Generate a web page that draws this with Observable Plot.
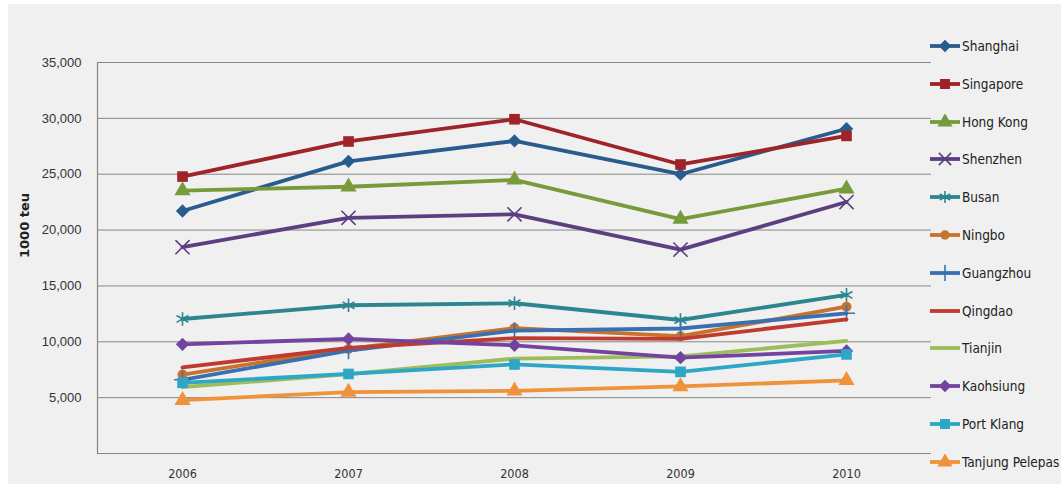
<!DOCTYPE html>
<html>
<head>
<meta charset="utf-8">
<script src="https://cdn.jsdelivr.net/npm/d3@7"></script>
<script src="https://cdn.jsdelivr.net/npm/@observablehq/plot@0.6"></script>
<style>
  html, body { margin: 0; padding: 0; background: #ffffff; }
  #wrap { position: relative; width: 1061px; height: 484px; overflow: hidden; }
  #bg { position: absolute; left: 8px; top: 4px; right: 0; bottom: 0; background: #f0f0f0; }
  #chart { position: absolute; left: 0; top: 0; }
  #legend { position: absolute; left: 0; top: 0; width: 1061px; height: 484px; pointer-events: none; }
  .item { position: absolute; left: 929px; height: 16px; display: flex; align-items: center;
          font-family: "Liberation Sans Narrow", "DejaVu Sans Condensed", Arial, sans-serif; font-size: 13.5px; color: #222; white-space: nowrap; }
  .item svg { display: block; margin-right: 1px; }
</style>
</head>
<body>
<div id="wrap">
  <div id="bg"></div>
  <div id="chart"></div>
  <div id="legend"></div>
</div>
<script>
const years = ["2006", "2007", "2008", "2009", "2010"];
const ports = ["Shanghai", "Singapore", "Hong Kong", "Shenzhen", "Busan", "Ningbo",
  "Guangzhou", "Qingdao", "Tianjin", "Kaohsiung", "Port Klang", "Tanjung Pelepas"];
const colors = ["#2a5b8e", "#9e2428", "#779b3a", "#5c3f80", "#2d8590", "#c8732c",
  "#3a70b2", "#c03a2e", "#9dbd5a", "#7244a0", "#2ea6c6", "#f0923a"];
const symbols = ["diamond2", "square", "triangle", "times", "asterisk", "circle",
  "plus", null, null, "diamond2", "square", "triangle"];
const shanghai = [21710, 26150, 27980, 25000, 29070];
const singapore = [24790, 27930, 29920, 25870, 28430];
const hongKong = [23540, 23880, 24490, 20980, 23700];
const shenzhen = [18470, 21100, 21410, 18250, 22510];
const busan = [12040, 13270, 13450, 11950, 14190];
const ningbo = [7070, 9360, 11230, 10500, 13140];
const guangzhou = [6600, 9200, 11000, 11190, 12550];
const qingdao = [7700, 9460, 10320, 10260, 12010];
const tianjin = [5950, 7100, 8500, 8700, 10080];
const kaohsiung = [9770, 10260, 9680, 8580, 9180];
const portKlang = [6330, 7120, 7970, 7310, 8870];
const tanjungPelepas = [4770, 5500, 5600, 6000, 6540];
const seriesValues = [shanghai, singapore, hongKong, shenzhen, busan, ningbo,
  guangzhou, qingdao, tianjin, kaohsiung, portKlang, tanjungPelepas];
const yTicks = [5000, 10000, 15000, 20000, 25000, 30000, 35000];
const yLabel = "1000 teu";

const data = [];
ports.forEach((p, i) => years.forEach((y, j) => data.push({port: p, year: y, value: seriesValues[i][j]})));

const strokeOnly = new Set(["times", "asterisk", "plus"]);
const seriesMarks = [];
ports.forEach((p, i) => {
  const d = data.filter(r => r.port === p);
  seriesMarks.push(Plot.line(d, {x: "year", y: "value", stroke: colors[i], strokeWidth: 3.8, strokeLinejoin: "round"}));
  const s = symbols[i];
  if (s) {
    if (strokeOnly.has(s)) {
      seriesMarks.push(Plot.dot(d, {x: "year", y: "value", symbol: () => s, r: s === "plus" ? 5.5 : 6.5, stroke: colors[i], strokeWidth: 1.6, fill: "none"}));
    } else {
      seriesMarks.push(Plot.dot(d, {x: "year", y: "value", symbol: () => s, r: s === "circle" ? 5 : 6, fill: colors[i], stroke: "none"}));
    }
  }
});

const chart = Plot.plot({
  width: 1061,
  height: 484,
  marginLeft: 97,
  marginRight: 130,
  marginTop: 62,
  marginBottom: 31,
  style: {background: "transparent", fontFamily: "Liberation Sans, Arial, sans-serif", color: "#222"},
  symbol: {type: "identity"},
  x: {type: "point", domain: years, padding: 0.5, label: null},
  y: {domain: [0, 35000], label: null},
  marks: [
    Plot.ruleY(yTicks, {stroke: "#878787", strokeWidth: 1}),
    Plot.ruleY([0], {stroke: "#878787", strokeWidth: 1.2}),
    Plot.frame({anchor: "left", stroke: "#878787", strokeWidth: 1.2}),
    Plot.axisY({ticks: yTicks, tickSize: 0, tickPadding: 16, tickFormat: d3.format(","), label: null, fontSize: 13, fill: "#333"}),
    Plot.axisX({tickSize: 0, tickPadding: 16, label: null, fontSize: 12.5, fontFamily: "Liberation Sans Narrow, DejaVu Sans Condensed, Arial, sans-serif", fill: "#333"}),
    Plot.text([yLabel], {frameAnchor: "left", dx: -73, rotate: -90, text: d => d, fontWeight: "bold", fontSize: 13, fontFamily: "DejaVu Sans, sans-serif", fill: "#222"}),
    ...seriesMarks
  ]
});
document.getElementById("chart").appendChild(chart);

// Legend
const legend = d3.select("#legend");
const symMap = {diamond2: d3.symbolDiamond2, square: d3.symbolSquare, triangle: d3.symbolTriangle,
  times: d3.symbolTimes, asterisk: d3.symbolAsterisk, circle: d3.symbolCircle, plus: d3.symbolPlus};
ports.forEach((p, i) => {
  const yc = 46 + i * 37.8;
  const item = legend.append("div").attr("class", "item").style("top", (yc - 8) + "px");
  const svg = item.append("svg").attr("width", 32).attr("height", 16);
  svg.append("line").attr("x1", 1).attr("x2", 31).attr("y1", 8).attr("y2", 8)
    .attr("stroke", colors[i]).attr("stroke-width", 3.8);
  const s = symbols[i];
  if (s) {
    const path = d3.symbol(symMap[s], s === "circle" ? 70 : 100)();
    const el = svg.append("path").attr("d", path).attr("transform", "translate(16,8)");
    if (strokeOnly.has(s)) el.attr("fill", "none").attr("stroke", colors[i]).attr("stroke-width", 1.6);
    else el.attr("fill", colors[i]);
  }
  item.append("span").text(p);
});
</script>
</body>
</html>
